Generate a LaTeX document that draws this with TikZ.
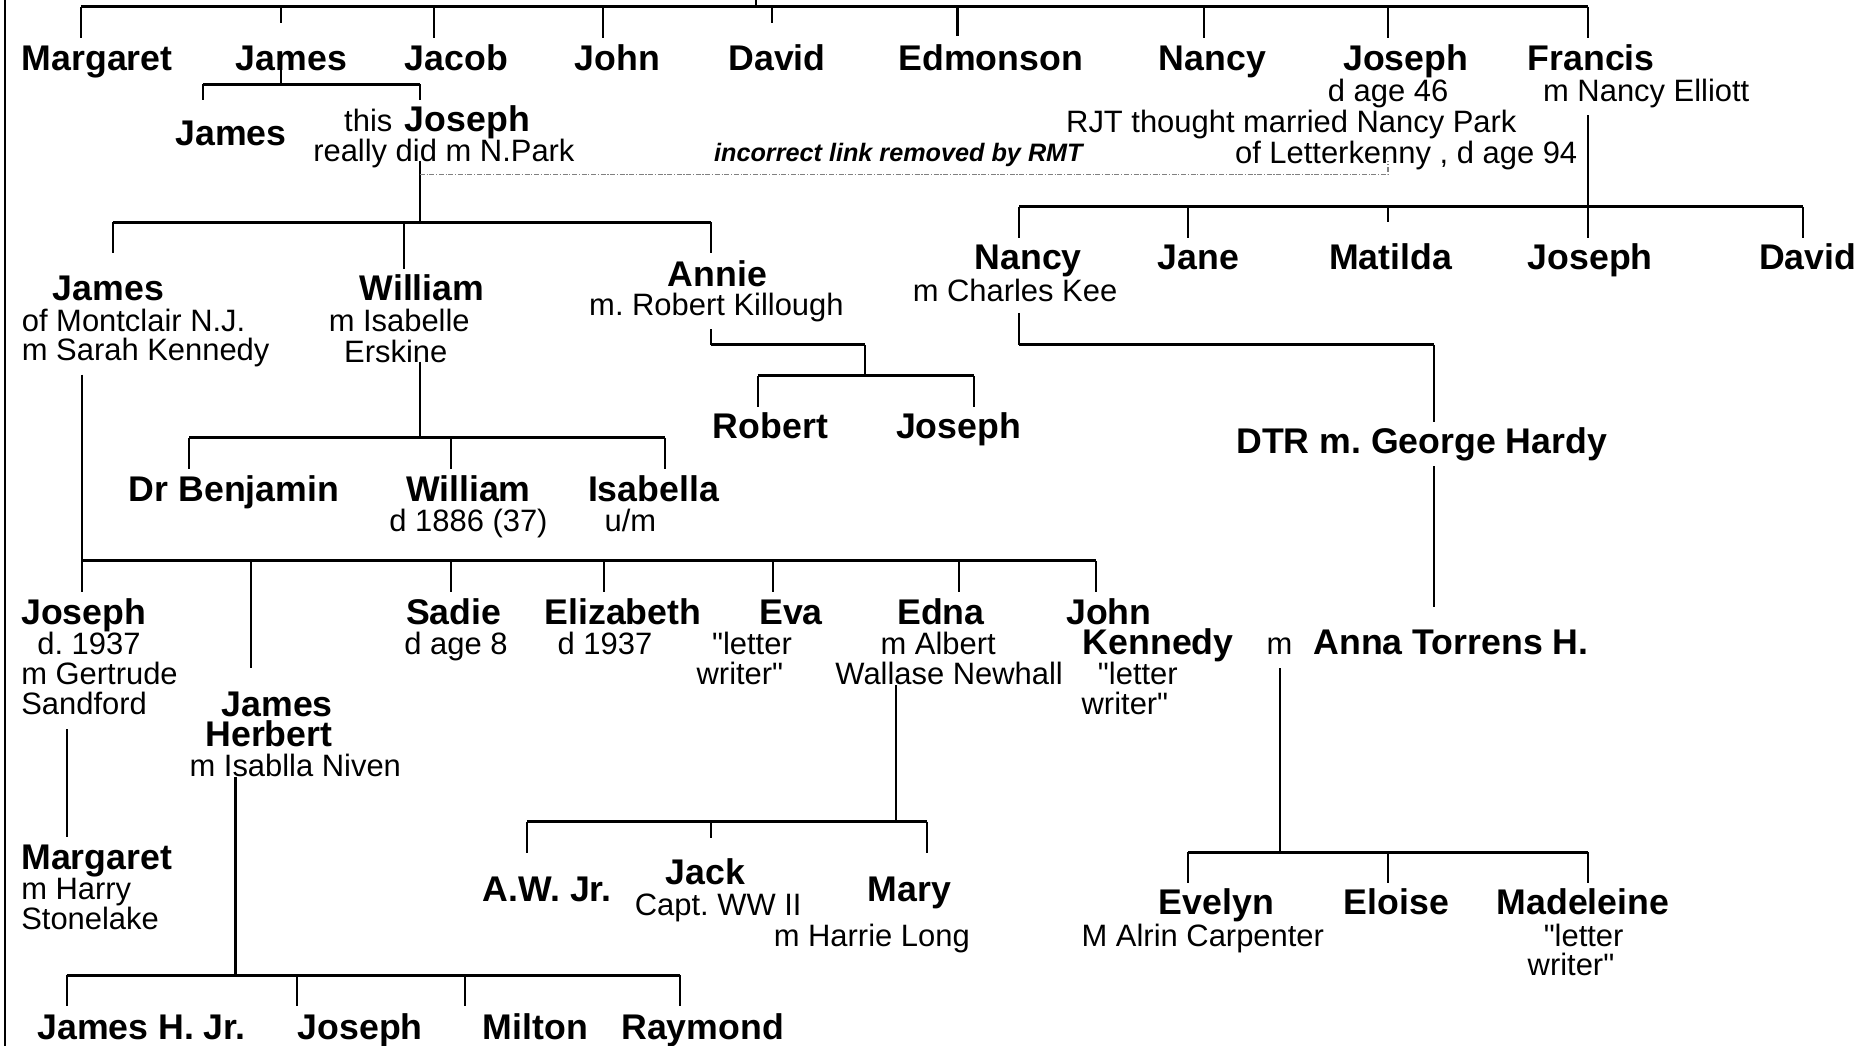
\documentclass[tikz,border=0pt]{standalone}
\usepackage{fontspec}
\setmainfont{Liberation Sans}
\newfontfamily\plainsans{Liberation Sans}
\newcommand{\sq}{{\plainsans\char34}}
\frenchspacing
\begin{document}
\begin{tikzpicture}[x=0.5pt,y=-0.5pt,
  nm/.style={font=\bfseries\fontsize{15}{15}\selectfont\frenchspacing, anchor=base west, inner sep=0pt, yshift=-1.25pt},
  sb/.style={font=\fontsize{13}{13}\selectfont\frenchspacing, anchor=base west, inner sep=0pt, yshift=-1.25pt},
  note/.style={font=\bfseries\itshape\fontsize{10.6}{10.6}\selectfont, anchor=base west, inner sep=0pt, yshift=-1pt},
  hbus/.style={line width=1.25pt},
  vln/.style={line width=0.85pt},
  gone/.style={draw=gray, line width=0.5pt, dash pattern=on 2.1pt off 0.7pt on 0.5pt off 0.7pt}]
\useasboundingbox (0,0) rectangle (1568,878.6);

% ---------- texts ----------
% generation 1
\node[nm] (n-margaret) at (18,57) {Margaret};
\node[nm] (n-james) at (198,57) {James};
\node[nm] (n-jacob) at (340,57) {Jacob};
\node[nm] (n-john) at (483,57) {John};
\node[nm] (n-david) at (612,57) {David};
\node[nm] (n-edmonson) at (755,57) {Edmonson};
\node[nm] (n-nancy) at (974,57) {Nancy};
\node[nm] (n-joseph) at (1129,57) {Joseph};
\node[nm] (n-francis) at (1284,57) {Francis};
\node[sb] (s-jos46) at (1116,83) {d age 46};
\node[sb] (s-francis) at (1297,83) {m Nancy Elliott};
\node[sb] (s-rjt1) at (896,109) {RJT thought married Nancy Park};
\node[sb] (s-rjt2) at (1038,135) {of Letterkenny , d age 94};
\node[note] (note) at (600,134) {incorrect link removed by RMT};
% generation 2
\node[nm] (n-james2) at (147,120) {James};
\node[sb] (s-this) at (289,108) {this};
\node[nm] (n-joseph2) at (340,108) {Joseph};
\node[sb] (s-npark) at (263,133) {really did m N.Park};
% generation 3
\node[nm] (n-james3) at (44,250) {James};
\node[sb] (s-james3a) at (18,276) {of Montclair N.J.};
\node[sb] (s-james3b) at (18,301) {m Sarah Kennedy};
\node[nm] (n-william3) at (302,250) {William};
\node[sb] (s-william3a) at (276,276) {m Isabelle};
\node[sb] (s-william3b) at (289,302) {Erskine};
\node[nm] (n-annie) at (561,238) {Annie};
\node[sb] (s-annie) at (495,263) {m. Robert Killough};
\node[nm] (n-robert) at (599,366) {Robert};
\node[nm] (n-joseph4) at (753,366) {Joseph};
\node[nm] (n-benjamin) at (108,419) {Dr Benjamin};
\node[nm] (n-william4) at (341,419) {William};
\node[sb] (s-william4) at (327,444) {d 1886 (37)};
\node[nm] (n-isabella) at (494,419) {Isabella};
\node[sb] (s-isabella) at (508,444) {u/m};
% Francis' children
\node[nm] (n-nancy3) at (819,224) {Nancy};
\node[sb] (s-nancy3) at (767,251) {m Charles Kee};
\node[nm] (n-jane) at (973,224) {Jane};
\node[nm] (n-matilda) at (1117,224) {Matilda};
\node[nm] (n-joseph3) at (1284,224) {Joseph};
\node[nm] (n-david3) at (1478.5,224) {David};
\node[nm] (n-dtr) at (1039,379) {DTR m. George Hardy};
% generation 4
\node[nm] (n-joseph5) at (17.5,522.7) {Joseph};
\node[sb] (s-joseph5a) at (31,548) {d. 1937};
\node[sb] (s-joseph5b) at (17.5,573) {m Gertrude};
\node[sb] (s-joseph5c) at (17.5,598) {Sandford};
\node[nm] (n-jh1) at (186,599.7) {James};
\node[nm] (n-jh2) at (172.3,625) {Herbert};
\node[sb] (s-jh) at (159,650) {m Isablla Niven};
\node[nm] (n-sadie) at (341,522.7) {Sadie};
\node[sb] (s-sadie) at (339.6,548) {d age 8};
\node[nm] (n-eliz) at (457.5,522.7) {Elizabeth};
\node[sb] (s-eliz) at (468.5,548) {d 1937};
\node[nm] (n-eva) at (638,522.7) {Eva};
\node[sb] (s-eva1) at (598.3,548) {\sq letter};
\node[sb] (s-eva2) at (585.3,573) {writer\sq};
\node[nm] (n-edna) at (754,522.7) {Edna};
\node[sb] (s-edna1) at (740,548) {m Albert};
\node[sb] (s-edna2) at (702,573) {Wallase Newhall};
\node[nm] (n-jk1) at (896,522.7) {John};
\node[nm] (n-jk2) at (910,548) {Kennedy};
\node[sb] (s-jk1) at (922.7,573) {\sq letter};
\node[sb] (s-jk2) at (909,598) {writer\sq};
\node[sb] (s-m) at (1064.5,548) {m};
\node[nm] (n-anna) at (1104,548) {Anna Torrens H.};
% generation 5
\node[nm] (n-marg5) at (17.5,728.7) {Margaret};
\node[sb] (s-marg5a) at (17.5,754) {m Harry};
\node[sb] (s-marg5b) at (17.5,779) {Stonelake};
\node[nm] (n-aw) at (405.6,755.3) {A.W. Jr.};
\node[nm] (n-jack) at (559.4,741.3) {Jack};
\node[sb] (s-jack) at (533.4,767.3) {Capt. WW II};
\node[nm] (n-mary) at (729,755.3) {Mary};
\node[sb] (s-mary) at (650.2,793) {m Harrie Long};
\node[nm] (n-evelyn) at (974,766.5) {Evelyn};
\node[sb] (s-evelyn) at (909,793) {M Alrin Carpenter};
\node[nm] (n-eloise) at (1129.5,766.5) {Eloise};
\node[nm] (n-madeleine) at (1258,766.5) {Madeleine};
\node[sb] (s-mad1) at (1297.5,793) {\sq letter};
\node[sb] (s-mad2) at (1284,818) {writer\sq};
% generation 6
\node[nm] (n-jhjr) at (31,871.6) {James H. Jr.};
\node[nm] (n-joseph6) at (250,871.6) {Joseph};
\node[nm] (n-milton) at (405.6,871.6) {Milton};
\node[nm] (n-raymond) at (522,871.6) {Raymond};

% ---------- connectors ----------
% left frame line
\coordinate (fr1) at (4,-3); \coordinate (fr2) at (4,882);
\draw[vln] (fr1) -- (fr2);
% generation 1 bus
\coordinate (g0up) at (636,-3); \coordinate (g0c) at (636,5.5);
\coordinate (g0l) at (68,5.5); \coordinate (g0r) at (1335,5.5);
\draw[vln] (g0up) -- (g0c);
\draw[hbus] (g0l) -- (g0r);
\foreach \x/\y [count=\i] in {68/32,236/19,365/32,507/32,649/19,805/30,1012/32,1167/32,1335/32}{
  \coordinate (g0t\i) at (\x,5.5); \coordinate (g0b\i) at (\x,\y);
  \draw[vln] (g0t\i) -- (g0b\i);}
% James's children
\coordinate (j1a) at (236,57); \coordinate (j1b) at (236,71);
\draw[vln] (j1a) -- (j1b);
\coordinate (j1l) at (171,71); \coordinate (j1r) at (353,71);
\draw[hbus] (j1l) -- (j1r);
\foreach \x [count=\i] in {171,353}{
  \coordinate (j1t\i) at (\x,71); \coordinate (j1d\i) at (\x,84);
  \draw[vln] (j1t\i) -- (j1d\i);}
% Joseph's children
\coordinate (jo1) at (353,135); \coordinate (jo2) at (353,187);
\draw[vln] (jo1) -- (jo2);
\coordinate (jol) at (95,187); \coordinate (jor) at (598,187);
\draw[hbus] (jol) -- (jor);
\foreach \x/\y [count=\i] in {95/213,340/226,598/213}{
  \coordinate (jot\i) at (\x,187); \coordinate (jod\i) at (\x,\y);
  \draw[vln] (jot\i) -- (jod\i);}
% removed link
\coordinate (rm1) at (353,146.5); \coordinate (rm2) at (1167,146.5); \coordinate (rm3) at (1167,135);
\draw[gone] (rm1) -- (rm2) -- (rm3);
% Annie's children
\coordinate (an1) at (598,277); \coordinate (an2) at (598,290);
\coordinate (an3) at (727,290); \coordinate (an4) at (727,316);
\draw[vln] (an1) -- (an2);
\draw[hbus] (an2) -- (an3);
\draw[vln] (an3) -- (an4);
\coordinate (anl) at (637,316); \coordinate (anr) at (819,316);
\draw[hbus] (anl) -- (anr);
\foreach \x [count=\i] in {637,819}{
  \coordinate (ant\i) at (\x,316); \coordinate (and\i) at (\x,342);
  \draw[vln] (ant\i) -- (and\i);}
% William's children
\coordinate (wi1) at (353,304); \coordinate (wi2) at (353,368);
\draw[vln] (wi1) -- (wi2);
\coordinate (wil) at (159,368); \coordinate (wir) at (559,368);
\draw[hbus] (wil) -- (wir);
\foreach \x [count=\i] in {159,379,559}{
  \coordinate (wit\i) at (\x,368); \coordinate (wid\i) at (\x,394);
  \draw[vln] (wit\i) -- (wid\i);}
% James of Montclair's children
\coordinate (ja1) at (69,315); \coordinate (ja2) at (69,471.5);
\draw[vln] (ja1) -- (ja2);
\coordinate (jar) at (921.5,471.5);
\draw[hbus] (ja2) -- (jar);
\foreach \x/\y [count=\i] in {69/497.5,211/562,379/497.5,508/497.5,650/497.5,806/497.5,921.5/497.5}{
  \coordinate (jat\i) at (\x,471.5); \coordinate (jad\i) at (\x,\y);
  \draw[vln] (jat\i) -- (jad\i);}
% Joseph -> Margaret
\coordinate (jm1) at (56,613); \coordinate (jm2) at (56,704);
\draw[vln] (jm1) -- (jm2);
% James Herbert's children
\coordinate (jh1) at (198,653); \coordinate (jh2) at (198,820);
\draw[vln] (jh1) -- (jh2);
\coordinate (jhl) at (56,820); \coordinate (jhr) at (572,820);
\draw[hbus] (jhl) -- (jhr);
\foreach \x [count=\i] in {56,250,391,572}{
  \coordinate (jht\i) at (\x,820); \coordinate (jhd\i) at (\x,846);
  \draw[vln] (jht\i) -- (jhd\i);}
% Edna's children
\coordinate (ed1) at (753,576); \coordinate (ed2) at (753,691);
\draw[vln] (ed1) -- (ed2);
\coordinate (edl) at (443,691); \coordinate (edr) at (779,691);
\draw[hbus] (edl) -- (edr);
\foreach \x/\y [count=\i] in {443/717.5,598/704.5,779/717.5}{
  \coordinate (edt\i) at (\x,691); \coordinate (edd\i) at (\x,\y);
  \draw[vln] (edt\i) -- (edd\i);}
% Francis' children
\coordinate (fa1) at (1335,97); \coordinate (fa2) at (1335,174);
\draw[vln] (fa1) -- (fa2);
\coordinate (fal) at (857,174); \coordinate (far) at (1516,174);
\draw[hbus] (fal) -- (far);
\foreach \x/\y [count=\i] in {857/200,999/200,1167/187,1335/200,1516/200}{
  \coordinate (fat\i) at (\x,174); \coordinate (fad\i) at (\x,\y);
  \draw[vln] (fat\i) -- (fad\i);}
% Nancy -> DTR -> Anna
\coordinate (nd1) at (857,263); \coordinate (nd2) at (857,290);
\coordinate (nd3) at (1206,290); \coordinate (nd4) at (1206,354.5);
\draw[vln] (nd1) -- (nd2);
\draw[hbus] (nd2) -- (nd3);
\draw[vln] (nd3) -- (nd4);
\coordinate (da1) at (1206,392); \coordinate (da2) at (1206,510);
\draw[vln] (da1) -- (da2);
% Anna's children
\coordinate (at1) at (1076,562); \coordinate (at2) at (1076,716.6);
\draw[vln] (at1) -- (at2);
\coordinate (atl) at (999,716.6); \coordinate (atr) at (1335,716.6);
\draw[hbus] (atl) -- (atr);
\foreach \x [count=\i] in {999,1167,1335}{
  \coordinate (att\i) at (\x,716.6); \coordinate (atd\i) at (\x,742.7);
  \draw[vln] (att\i) -- (atd\i);}
\end{tikzpicture}
\end{document}
